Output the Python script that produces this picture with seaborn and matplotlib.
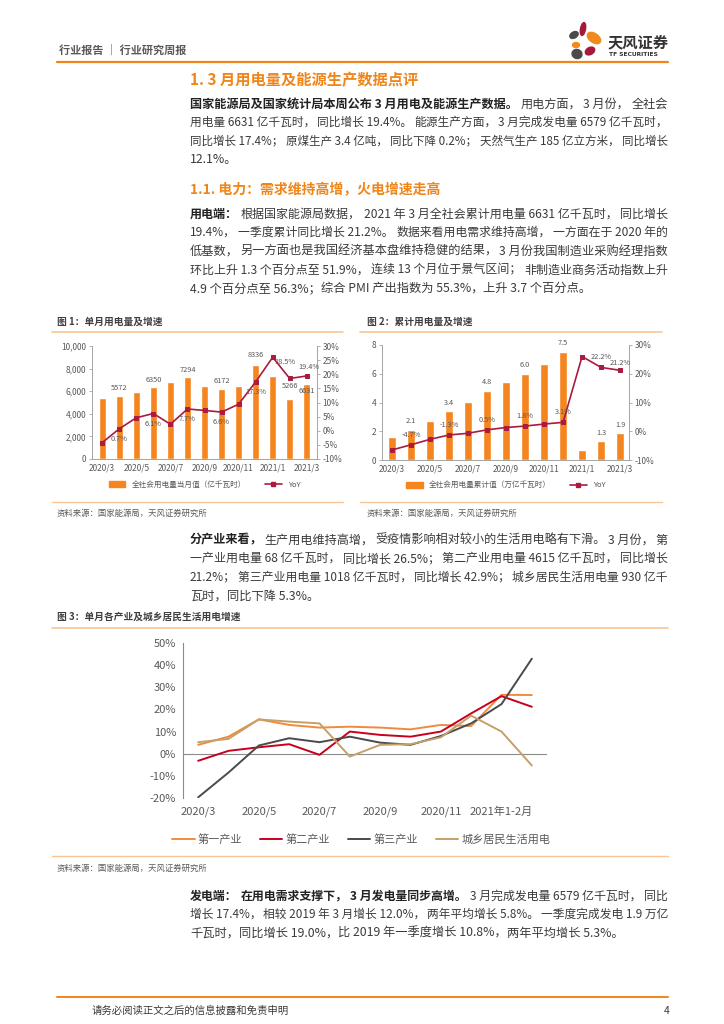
import re
import numpy as np
import pandas as pd
import matplotlib
matplotlib.use("Agg")
import matplotlib.pyplot as plt
import matplotlib.ticker as mticker
from matplotlib.patches import Patch, Ellipse
from matplotlib.lines import Line2D
import seaborn as sns

sns.set_style("white")
plt.rcParams['font.family'] = ['Noto Sans CJK SC', 'DejaVu Sans']
plt.rcParams['axes.unicode_minus'] = False

# --- data ---
months = ["2020/3", "2020/4", "2020/5", "2020/6", "2020/7", "2020/8", "2020/9",
          "2020/10", "2020/11", "2020/12", "2021/1", "2021/2", "2021/3"]
monthly_use = [5415, 5572, 5935, 6350, 6824, 7294, 6440, 6172, 6456, 8336, 7322, 5266, 6631]
monthly_yoy = [-4.2, 0.7, 4.6, 6.1, 2.3, 7.7, 7.2, 6.6, 9.4, 17.3, 26.0, 18.5, 19.4]
cum_use = [1.58, 2.1, 2.71, 3.4, 4.06, 4.8, 5.4, 6.0, 6.68, 7.5, 0.73, 1.3, 1.9]
cum_yoy = [-6.5, -4.7, -2.8, -1.3, -0.7, 0.5, 1.3, 1.8, 2.5, 3.1, 26.0, 22.2, 21.2]

ind_months = ["2020/3", "2020/4", "2020/5", "2020/6", "2020/7", "2020/8", "2020/9",
              "2020/10", "2020/11", "2020/12", "2021年1-2月", "2021/3"]
primary = [4.0, 7.7, 15.5, 13.0, 11.8, 12.2, 11.8, 11.0, 13.0, 12.5, 26.6, 26.5]
secondary = [-3.2, 1.3, 2.9, 4.3, -0.5, 10.0, 8.5, 7.7, 10.0, 18.2, 26.0, 21.2]
tertiary = [-19.7, -8.5, 3.7, 7.0, 5.2, 7.7, 5.0, 4.0, 8.0, 13.7, 22.4, 42.9]
residential = [5.2, 6.7, 15.5, 14.5, 13.7, -1.3, 4.0, 4.3, 7.4, 17.2, 10.0, -5.3]
series_names = ["第一产业", "第二产业", "第三产业", "城乡居民生活用电"]

# --- colours ---
ORANGE = "#F5851F"
HEAD_ORANGE = "#F08519"
LIGHT_ORANGE = "#F9C596"
RED_LINE = "#A91B3F"
TXT = "#3A3A3A"
GREY = "#595959"
SPINE = "#A6A6A6"
line_colors = ["#F28A3C", "#C8001E", "#4A4A4A", "#C4A06A"]

W, H = 724, 1024
fig = plt.figure(figsize=(W / 100, H / 100), dpi=100)
renderer = fig.canvas.get_renderer()


def fx(x):
    return x / W


def fy(y):
    return 1 - y / H


def px_axes(l, t, r, b):
    return fig.add_axes([l / W, 1 - b / H, (r - l) / W, (b - t) / H])


def hline(y, x0, x1, color, lw):
    fig.add_artist(Line2D([fx(x0), fx(x1)], [fy(y), fy(y)], color=color, lw=lw))


def body_line(y, segs, justify=True, x0=190, x1=668, size=8.8):
    chunks = []
    for txt, bold in segs:
        for p in re.findall(r'[^，；。：]*[，；。：]?', txt):
            if p:
                chunks.append((p, bold))
    texts = []
    for p, bold in chunks:
        t = fig.text(0, fy(y), p, fontsize=size, va="center", ha="left",
                     fontweight="bold" if bold else "normal",
                     color="#222222" if bold else TXT)
        texts.append(t)
    widths = [t.get_window_extent(renderer).width for t in texts]
    avail = x1 - x0 - 2 * max(len(chunks) - 1, 0)
    if sum(widths) > avail:
        k = avail / sum(widths)
        for t in texts:
            t.set_fontsize(size * k)
        widths = [t.get_window_extent(renderer).width for t in texts]
    gap = 0
    if justify and len(chunks) > 1:
        gap = (x1 - x0 - sum(widths)) / (len(chunks) - 1)
    cur = x0
    for t, w in zip(texts, widths):
        t.set_x(fx(cur))
        cur += w + gap


# --- page header ---
fig.text(fx(59), fy(50), "行业报告 ｜ 行业研究周报", fontsize=8, fontweight="bold",
         color=GREY, va="center")
hline(62, 57, 668, HEAD_ORANGE, 1.6)

lax = px_axes(560, 18, 612, 66)
lax.set_xlim(560, 612)
lax.set_ylim(66, 18)
lax.axis("off")
petals = [(583, 29, 5, 13, 10, "#A6193C"),
          (574, 35, 9, 6, -30, "#4A4A4A"),
          (594, 38, 15, 9, 35, "#F08A1C"),
          (576, 45, 7, 5, 0, "#F08A1C"),
          (590, 51, 10, 7, -30, "#A6193C"),
          (577, 54, 10, 9, 20, "#4A4A4A")]
for cx, cy, w, h, ang, c in petals:
    lax.add_patch(Ellipse((cx, cy), w, h, angle=ang, color=c))
fig.text(fx(608), fy(42), "天风证券", fontsize=11, fontweight="bold", color="#333333", va="center")
fig.text(fx(609), fy(55), "TF SECURITIES", fontsize=4.3, fontweight="bold", color="#333333",
         va="center", family="DejaVu Sans")

# --- section title + paragraphs ---
fig.text(fx(190), fy(80), "1. 3 月用电量及能源生产数据点评", fontsize=11, fontweight="bold",
         color=HEAD_ORANGE, va="center")

LS = 18.6
p1 = [[("国家能源局及国家统计局本周公布 3 月用电及能源生产数据。", True), ("用电方面，3 月份，全社会", False)],
      [("用电量 6631 亿千瓦时，同比增长 19.4%。能源生产方面，3 月完成发电量 6579 亿千瓦时，", False)],
      [("同比增长 17.4%；原煤生产 3.4 亿吨，同比下降 0.2%；天然气生产 185 亿立方米，同比增长", False)],
      [("12.1%。", False)]]
for i, segs in enumerate(p1):
    body_line(104 + i * LS, segs, justify=i < len(p1) - 1)

fig.text(fx(190), fy(190), "1.1. 电力：需求维持高增，火电增速走高", fontsize=10, fontweight="bold",
         color=HEAD_ORANGE, va="center")

p2 = [[("用电端：", True), ("根据国家能源局数据，2021 年 3 月全社会累计用电量 6631 亿千瓦时，同比增长", False)],
      [("19.4%，一季度累计同比增长 21.2%。数据来看用电需求维持高增，一方面在于 2020 年的", False)],
      [("低基数，另一方面也是我国经济基本盘维持稳健的结果，3 月份我国制造业采购经理指数", False)],
      [("环比上升 1.3 个百分点至 51.9%，连续 13 个月位于景气区间；非制造业商务活动指数上升", False)],
      [("4.9 个百分点至 56.3%；综合 PMI 产出指数为 55.3%，上升 3.7 个百分点。", False)]]
for i, segs in enumerate(p2):
    body_line(214 + i * LS, segs, justify=i < len(p2) - 1)

# --- figure 1 / 2 frames ---
fig.text(fx(57), fy(322), "图 1：单月用电量及增速", fontsize=7, fontweight="bold", color="#404040", va="center")
fig.text(fx(367), fy(322), "图 2：累计用电量及增速", fontsize=7, fontweight="bold", color="#404040", va="center")
hline(332, 52, 343, LIGHT_ORANGE, 1.2)
hline(332, 360, 662, LIGHT_ORANGE, 1.2)
hline(502, 52, 343, LIGHT_ORANGE, 1.0)
hline(502, 360, 662, LIGHT_ORANGE, 1.0)
fig.text(fx(57), fy(513), "资料来源：国家能源局，天风证券研究所", fontsize=6, color=GREY, va="center")
fig.text(fx(367), fy(513), "资料来源：国家能源局，天风证券研究所", fontsize=6, color=GREY, va="center")


def style_dual(ax, ax2):
    for a in (ax, ax2):
        a.spines["top"].set_visible(False)
        for s in ["left", "bottom", "right"]:
            a.spines[s].set_color(SPINE)
            a.spines[s].set_linewidth(0.7)
        a.tick_params(axis="y", length=2, width=0.6, color=SPINE, labelsize=6, labelcolor=GREY, pad=2)
        a.set_xlabel("")
        a.set_ylabel("")
        a.grid(False)
    ax.tick_params(axis="x", length=0, labelsize=6, labelcolor=GREY, pad=3)


def lab(ax, x, y, s, dy, dx=0):
    ax.annotate(s, (x, y), xytext=(dx, dy), textcoords="offset pixels", ha="center", va="center",
                fontsize=5.3, color=GREY)


pos = np.arange(len(months))

# chart 1
ax1 = px_axes(92, 346, 317, 459)
df1 = pd.DataFrame({"month": months, "use": monthly_use, "yoy": monthly_yoy})
sns.barplot(data=df1, x="month", y="use", ax=ax1, color=ORANGE, width=0.42, saturation=1)
ax1b = ax1.twinx()
sns.lineplot(x=pos, y=monthly_yoy, ax=ax1b, color=RED_LINE, marker="s", markersize=3.5,
             markeredgecolor=RED_LINE, linewidth=1.2)
ax1.set_ylim(0, 10000)
ax1.set_yticks(range(0, 10001, 2000))
ax1.yaxis.set_major_formatter(mticker.FuncFormatter(lambda v, _: f"{int(v):,}"))
ax1b.set_ylim(-10, 30)
ax1b.set_yticks(range(-10, 31, 5))
ax1b.yaxis.set_major_formatter(mticker.FuncFormatter(lambda v, _: f"{int(v)}%"))
ax1.set_xticks(pos[::2])
ax1.set_xticklabels(months[::2])
ax1.set_xlim(-0.6, 12.6)
ax1b.set_xlim(-0.6, 12.6)
style_dual(ax1, ax1b)
for i, dy in zip([1, 3, 5, 7, 9, 11, 12], [8, 7, 7, 8, 10, 13, -7]):
    lab(ax1, i, monthly_use[i], f"{monthly_use[i]}", dy)
for i, dy, dx in zip([1, 3, 5, 7, 9, 11, 12], [-10, -10, -10, -10, -10, 16, 9], [0, 0, 0, 0, 0, -5, 2]):
    lab(ax1b, i, monthly_yoy[i], f"{monthly_yoy[i]:.1f}%", dy, dx)
ax1.legend(handles=[Patch(color=ORANGE, label="全社会用电量当月值（亿千瓦时）"),
                    Line2D([], [], color=RED_LINE, marker="s", markersize=3, lw=1.2, label="YoY")],
           loc="center", bbox_to_anchor=(0.5, -0.23), ncol=2, frameon=False, fontsize=5.5,
           handlelength=2.2, handleheight=0.8, columnspacing=2.5, labelcolor=GREY)

# chart 2
ax2 = px_axes(382, 345, 629, 460)
df2 = pd.DataFrame({"month": months, "use": cum_use, "yoy": cum_yoy})
sns.barplot(data=df2, x="month", y="use", ax=ax2, color=ORANGE, width=0.38, saturation=1)
ax2b = ax2.twinx()
sns.lineplot(x=pos, y=cum_yoy, ax=ax2b, color=RED_LINE, marker="s", markersize=3.5,
             markeredgecolor=RED_LINE, linewidth=1.2)
ax2.set_ylim(0, 8)
ax2.set_yticks(range(0, 9, 2))
ax2b.set_ylim(-10, 30)
ax2b.set_yticks(range(-10, 31, 10))
ax2b.yaxis.set_major_formatter(mticker.FuncFormatter(lambda v, _: f"{int(v)}%"))
ax2.set_xticks(pos[::2])
ax2.set_xticklabels(months[::2])
ax2.set_xlim(-0.53, 12.47)
ax2b.set_xlim(-0.53, 12.47)
style_dual(ax2, ax2b)
for i, dy in zip([1, 3, 5, 7, 9, 11, 12], [9, 8, 9, 9, 9, 8, 8]):
    lab(ax2, i, cum_use[i], f"{cum_use[i]:.1f}", dy)
for i, dy in zip([1, 3, 5, 7, 9, 11, 12], [10, 10, 10, 10, 10, 10, 7]):
    lab(ax2b, i, cum_yoy[i], f"{cum_yoy[i]:.1f}%", dy)
ax2.legend(handles=[Patch(color=ORANGE, label="全社会用电量累计值（万亿千瓦时）"),
                    Line2D([], [], color=RED_LINE, marker="s", markersize=3, lw=1.2, label="YoY")],
           loc="center", bbox_to_anchor=(0.5, -0.22), ncol=2, frameon=False, fontsize=5.5,
           handlelength=2.2, handleheight=0.8, columnspacing=2.5, labelcolor=GREY)

# --- paragraph 3 ---
p3 = [[("分产业来看，", True), ("生产用电维持高增，受疫情影响相对较小的生活用电略有下滑。3 月份，第", False)],
      [("一产业用电量 68 亿千瓦时，同比增长 26.5%；第二产业用电量 4615 亿千瓦时，同比增长", False)],
      [("21.2%；第三产业用电量 1018 亿千瓦时，同比增长 42.9%；城乡居民生活用电量 930 亿千", False)],
      [("瓦时，同比下降 5.3%。", False)]]
for i, segs in enumerate(p3):
    body_line(540 + i * LS, segs, justify=i < len(p3) - 1)

# --- figure 3 ---
fig.text(fx(57), fy(617), "图 3：单月各产业及城乡居民生活用电增速", fontsize=7, fontweight="bold",
         color="#404040", va="center")
hline(628, 52, 668, LIGHT_ORANGE, 1.2)
hline(856, 52, 668, LIGHT_ORANGE, 1.0)
fig.text(fx(57), fy(868), "资料来源：国家能源局，天风证券研究所", fontsize=6, color=GREY, va="center")

ax3 = px_axes(183, 643, 547, 798)
ipos = np.arange(len(ind_months))
df3 = pd.DataFrame({
    "pos": np.tile(ipos, 4),
    "value": primary + secondary + tertiary + residential,
    "series": np.repeat(series_names, len(ind_months)),
})
sns.lineplot(data=df3, x="pos", y="value", hue="series", hue_order=series_names,
             palette=line_colors, linewidth=1.4, ax=ax3, legend=False)
ax3.set_xlim(-0.5, 11.5)
ax3.set_ylim(-20, 50)
ax3.set_yticks(range(-20, 51, 10))
ax3.yaxis.set_major_formatter(mticker.FuncFormatter(lambda v, _: f"{int(v)}%"))
ax3.set_xticks(ipos[::2])
ax3.set_xticklabels(ind_months[::2])
ax3.axhline(0, color="#8C8C8C", lw=0.8, zorder=0)
for s in ["top", "right", "bottom"]:
    ax3.spines[s].set_visible(False)
ax3.spines["left"].set_color("#8C8C8C")
ax3.spines["left"].set_linewidth(0.8)
ax3.tick_params(axis="y", length=3, width=0.7, color="#8C8C8C", labelsize=8, labelcolor=GREY, pad=2)
ax3.tick_params(axis="x", length=0, labelsize=8, labelcolor=GREY, pad=6)
ax3.set_xlabel("")
ax3.set_ylabel("")
ax3.legend(handles=[Line2D([], [], color=c, lw=1.4, label=n) for c, n in zip(line_colors, series_names)],
           loc="center", bbox_to_anchor=(0.49, -0.265), ncol=4, frameon=False, fontsize=8,
           handlelength=2.0, columnspacing=1.6, handletextpad=0.3, labelcolor=GREY)

# --- paragraph 4 ---
p4 = [[("发电端：在用电需求支撑下，3 月发电量同步高增。", True), ("3 月完成发电量 6579 亿千瓦时，同比", False)],
      [("增长 17.4%，相较 2019 年 3 月增长 12.0%，两年平均增长 5.8%。一季度完成发电 1.9 万亿", False)],
      [("千瓦时，同比增长 19.0%，比 2019 年一季度增长 10.8%，两年平均增长 5.3%。", False)]]
for i, segs in enumerate(p4):
    body_line(896 + i * LS, segs, justify=i < len(p4) - 1)

# --- footer ---
hline(997, 57, 668, HEAD_ORANGE, 1.4)
fig.text(fx(92), fy(1011), "请务必阅读正文之后的信息披露和免责申明", fontsize=7.5, color=TXT, va="center")
fig.text(fx(664), fy(1011), "4", fontsize=7.5, color=TXT, va="center")

fig.savefig("out.png", dpi=100)
